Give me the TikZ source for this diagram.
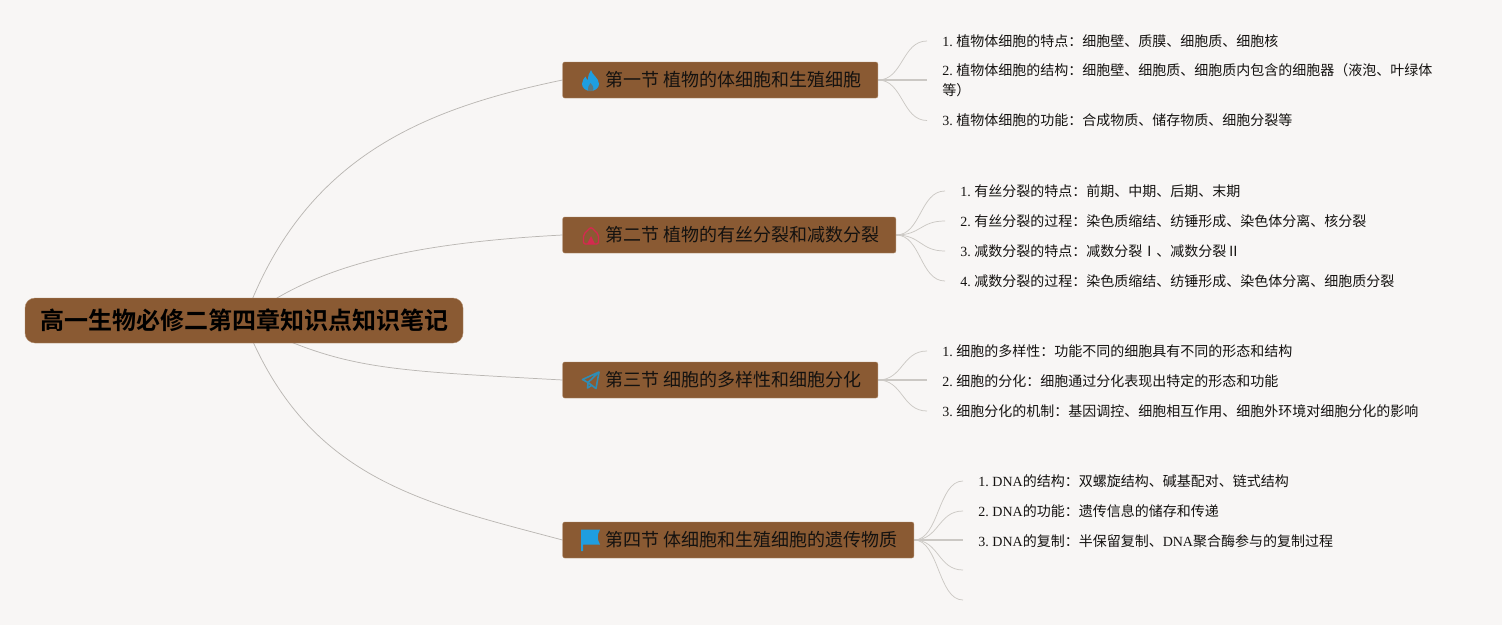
\documentclass[tikz,border=0pt]{standalone}
\usepackage{fontspec}
\setmainfont{Liberation Serif}
\newfontfamily\cjk{Noto Sans CJK SC}
\newfontfamily\cjkb{Noto Sans CJK SC Bold}
\newcommand{\zh}[1]{{\cjk #1}}
\newcommand{\nm}[1]{#1. \kern-0.75pt}
\definecolor{bgc}{HTML}{F8F6F5}
\definecolor{boxc}{HTML}{8A5A33}
\definecolor{edgec}{HTML}{B08C6C}
\definecolor{linec}{HTML}{CBC8C4}
\definecolor{rlinec}{HTML}{BAB7B3}
\definecolor{inkc}{HTML}{141210}
\definecolor{flamec}{HTML}{1F9EE0}
\definecolor{housec}{HTML}{D42A4F}
\definecolor{planec}{HTML}{2F8DB5}
\pgfdeclarelayer{edges}
\pgfsetlayers{edges,main}
\tikzset{
  rootbox/.style={draw=edgec,line width=0.3pt,fill=boxc,rounded corners=7.5pt,minimum width=328.5pt,minimum height=33.75pt,inner sep=0pt,text=black,font=\fontsize{18pt}{22pt}\selectfont},
  secbox/.style={draw=edgec,line width=0.3pt,fill=boxc,rounded corners=1.5pt,anchor=west,minimum height=27pt,inner xsep=12.1pt,inner ysep=0pt,text=inkc,font=\fontsize{13.5pt}{16pt}\selectfont},
  leaf/.style={anchor=west,inner xsep=11.25pt,inner ysep=0pt,text=inkc,align=left,font=\fontsize{10.5pt}{15pt}\selectfont},
  link/.style={draw=linec,line width=0.55pt},
  rootlink/.style={draw=rlinec,line width=0.55pt},
  midlink/.style={draw=linec,line width=1pt}
}
\newcommand{\sectxt}[2]{\hspace*{19.8pt}\raisebox{-0.5pt}{\zh{#1} \zh{#2}}}
\begin{document}
\begin{tikzpicture}[x=0.75pt,y=-0.75pt]
\useasboundingbox (0,0) rectangle (1502,625);
\node[rootbox] (root) at (244,320.5) {\hspace*{1pt}{\cjkb 高一生物必修二第四章知识点知识笔记}};
\node[secbox] (s1) at (562.5,80) {\sectxt{第一节}{植物的体细胞和生殖细胞}};
\node[secbox] (s2) at (562.5,235) {\sectxt{第二节}{植物的有丝分裂和减数分裂}};
\node[secbox] (s3) at (562.5,380) {\sectxt{第三节}{细胞的多样性和细胞分化}};
\node[secbox] (s4) at (562.5,540) {\sectxt{第四节}{体细胞和生殖细胞的遗传物质}};
% section 1
\node[leaf] (a1) at (927,41) {\nm{1}\zh{植物体细胞的特点：细胞壁、质膜、细胞质、细胞核}};
\node[leaf] (a2) at (927,80.5) {\nm{2}\zh{植物体细胞的结构：细胞壁、细胞质、细胞质内包含的细胞器（液泡、叶绿体}\\\zh{等）}};
\node[leaf] (a3) at (927,120.5) {\nm{3}\zh{植物体细胞的功能：合成物质、储存物质、细胞分裂等}};
% section 2
\node[leaf] (b1) at (945,191) {\nm{1}\zh{有丝分裂的特点：前期、中期、后期、末期}};
\node[leaf] (b2) at (945,221) {\nm{2}\zh{有丝分裂的过程：染色质缩结、纺锤形成、染色体分离、核分裂}};
\node[leaf] (b3) at (945,251) {\nm{3}\zh{减数分裂的特点：减数分裂Ⅰ、减数分裂Ⅱ}};
\node[leaf] (b4) at (945,281) {\nm{4}\zh{减数分裂的过程：染色质缩结、纺锤形成、染色体分离、细胞质分裂}};
% section 3
\node[leaf] (c1) at (927,351) {\nm{1}\zh{细胞的多样性：功能不同的细胞具有不同的形态和结构}};
\node[leaf] (c2) at (927,381) {\nm{2}\zh{细胞的分化：细胞通过分化表现出特定的形态和功能}};
\node[leaf] (c3) at (927,411) {\nm{3}\zh{细胞分化的机制：基因调控、细胞相互作用、细胞外环境对细胞分化的影响}};
% section 4
\node[leaf] (d1) at (963,481) {\nm{1}DNA\zh{的结构：双螺旋结构、碱基配对、链式结构}};
\node[leaf] (d2) at (963,511) {\nm{2}DNA\zh{的功能：遗传信息的储存和传递}};
\node[leaf] (d3) at (963,541) {\nm{3}DNA\zh{的复制：半保留复制、}DNA\zh{聚合酶参与的复制过程}};
\coordinate (d4) at (963,570);
\coordinate (d5) at (963,600);
\coordinate (a2e) at (927,80);
\coordinate (c2e) at (927,380);
\coordinate (d3e) at (963,540);
\begin{pgfonlayer}{edges}
\fill[bgc] (0,0) rectangle (1502,625);
\draw[rootlink] (root.center) .. controls (303,157) and (423,109) .. (s1.west);
\draw[rootlink] (root.center) .. controls (314,265) and (412,243) .. (s2.west);
\draw[rootlink] (root.center) .. controls (343,370) and (383,370) .. (s3.west);
\draw[rootlink] (root.center) .. controls (306,479) and (420,502) .. (s4.west);
\foreach \k in {a1,a3}{\draw[link] (s1.east) .. controls +(25,0) and +(-25,0) .. (\k.west);}
\draw[midlink] (s1.east) -- (a2e);
\foreach \k in {b1,b2,b3,b4}{\draw[link] (s2.east) .. controls +(25,0) and +(-25,0) .. (\k.west);}
\foreach \k in {c1,c3}{\draw[link] (s3.east) .. controls +(25,0) and +(-25,0) .. (\k.west);}
\draw[midlink] (s3.east) -- (c2e);
\foreach \k in {d1,d2}{\draw[link] (s4.east) .. controls +(25,0) and +(-25,0) .. (\k.west);}
\foreach \k in {d4,d5}{\draw[link] (s4.east) .. controls +(25,0) and +(-25,0) .. (\k);}
\draw[midlink] (s4.east) -- (d3e);
\end{pgfonlayer}
% flame
\fill[flamec] (591,70) .. controls (592,75) and (599,78) .. (599,84) .. controls (599,88) and (595,91) .. (590.5,91) .. controls (586,91) and (582,88) .. (582,84) .. controls (582,81) and (584,78) .. (585.5,76.5) .. controls (586,78.5) and (587,79.5) .. (588,80) .. controls (588,76) and (589,73) .. (591,70) -- cycle;
\fill[boxc!55!flamec] (590.5,83) .. controls (592.5,85) and (594,87) .. (593,91) -- (588,91) .. controls (587,88) and (589,85) .. (590.5,83) -- cycle;
% house
\draw[housec,line width=1pt,line join=round,rounded corners=1.5pt] (583.5,244) -- (583.5,234.5) -- (591,227) -- (598.5,234.5) -- (598.5,244) -- cycle;
\fill[housec] (591,236) -- (595,244) -- (587,244) -- cycle;
% plane
\draw[planec,line width=1.2pt,line join=round] (599,372) -- (582.5,379.5) -- (588,382.5) -- cycle;
\draw[planec,line width=1.2pt,line join=round] (599,372) -- (596,388.5) -- (588,382.5) -- (587.5,388) -- (591.5,385.5);
% flag
\fill[flamec] (581,529.5) -- (600,529.5) .. controls (597,535) and (597,539) .. (600,544.5) -- (583,544.5) -- (583,551) -- (581,551) -- cycle;
\end{tikzpicture}
\end{document}
